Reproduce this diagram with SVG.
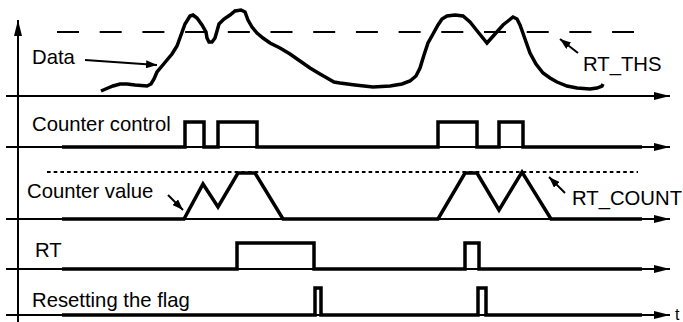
<svg xmlns="http://www.w3.org/2000/svg" width="683" height="322" viewBox="0 0 683 322">
<style>
.ax{stroke:#000;stroke-width:2;fill:none}
.sig{stroke:#000;stroke-width:3.5;fill:none;stroke-linejoin:miter;stroke-linecap:butt}
.lbl{font-family:"Liberation Sans",Arial,sans-serif;font-size:20.3px;fill:#000}
.ptr{stroke:#000;stroke-width:2;fill:none}
</style>
<defs>
<marker id="axh" markerUnits="userSpaceOnUse" viewBox="0 0 16 8" refX="16" refY="4" markerWidth="16" markerHeight="8" orient="auto">
<path d="M0,0 L16,4 L0,8 Z" fill="#000"/>
</marker>
<marker id="ph" markerUnits="userSpaceOnUse" viewBox="0 0 11 8" refX="11" refY="4" markerWidth="11" markerHeight="8" orient="auto">
<path d="M0,0 L11,4 L0,8 Z" fill="#000"/>
</marker>
</defs>
<g id="axes">
<line class="ax" x1="18" y1="322" x2="18" y2="20" marker-end="url(#axh)"/>
<line class="ax" x1="6" y1="96" x2="670" y2="96" marker-end="url(#axh)"/>
<line class="ax" x1="6" y1="147" x2="670" y2="147" marker-end="url(#axh)"/>
<line class="ax" x1="6" y1="219" x2="670" y2="219" marker-end="url(#axh)"/>
<line class="ax" x1="6" y1="269" x2="670" y2="269" marker-end="url(#axh)"/>
<line class="ax" x1="6" y1="315" x2="670" y2="315" marker-end="url(#axh)"/>
</g>
<g id="thresholds">
<line x1="57" y1="32" x2="634" y2="32" stroke="#000" stroke-width="2" stroke-dasharray="22 20.7"/>
<line x1="47" y1="172" x2="638" y2="172" stroke="#000" stroke-width="2" stroke-dasharray="3.6 3.1"/>
</g>
<g id="data">
<polyline class="sig" stroke-linejoin="round" stroke-linecap="round" points="101,91 108,88 113,86 120,84 127,84 135,85 147,86 151,84 154,79 157,72 162,66 167,60 172,54 177,46 181,35 185,24 190,16 193,15 197,18 202,25 206,32 207,38 209,42 212,42 215,38 217,31 219,24 224,19 230,15 235,11 241,10 245,12 248,20 252,27 257,33 263,38 270,43 280,48 290,54 300,61 310,68 320,74 327,78 334,82 340,83 355,85 373,87 390,86 402,84 410,81 416,76 420,68 424,55 428,43 433,34 438,25 442,19 447,16 455,15 463,16 470,22 478,32 487,43 495,34 503,25 508,21 513,17 517,19 520,25 525,39 530,53 536,64 543,73 550,78 557,82 567,86 577,88 590,89 597,88 602,86 603,84"/>
</g>
<g id="counter-control">
<polyline class="sig" points="62,147 185,147 185,122 204,122 204,147 218,147 218,122 257,122 257,147 438,147 438,122 477,122 477,147 499,147 499,122 523,122 523,147 642,147"/>
</g>
<g id="counter-value">
<polyline class="sig" points="62,219 184,219 203,184 218,207 238,173 255,173 283,219 438,219 465,173 477,173 499,210 522,172 551,219 642,219"/>
</g>
<g id="rt">
<polyline class="sig" points="62,269 237,269 237,243 314,243 314,269 465,269 465,243 479,243 479,269 642,269"/>
</g>
<g id="reset-flag">
<polyline class="sig" points="62,315 315,315 315,288 321,288 321,315 478,315 478,288 486,288 486,315 642,315"/>
</g>
<g id="pointers">
<line class="ptr" x1="85" y1="60" x2="157" y2="65" marker-end="url(#ph)"/>
<line class="ptr" x1="578" y1="53" x2="560" y2="39" marker-end="url(#ph)"/>
<line class="ptr" x1="168" y1="195" x2="183" y2="210" marker-end="url(#ph)"/>
<line class="ptr" x1="565" y1="193" x2="549" y2="177" marker-end="url(#ph)"/>
</g>
<g id="labels">
<text class="lbl" x="32" y="64">Data</text>
<text class="lbl" x="583" y="71">RT_THS</text>
<text class="lbl" x="32" y="131">Counter control</text>
<text class="lbl" x="27" y="198">Counter value</text>
<text class="lbl" x="572" y="205">RT_COUNT</text>
<text class="lbl" x="35" y="257">RT</text>
<text class="lbl" x="32" y="307">Resetting the flag</text>
<text class="lbl" x="675" y="320" style="font-size:16px">t</text>
</g>
</svg>
